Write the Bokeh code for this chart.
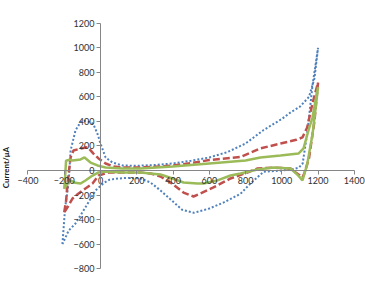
import math
from bokeh.plotting import figure
from bokeh.models import Label, Range1d, FixedTicker
from bokeh.embed import file_html
from bokeh.resources import INLINE

# Series 1 (blue, dotted) - one CV loop
blue_x = [-210, -195, -176, -165, -138, -110, -90, -60, -40, -17, 0, 28, 66, 121, 200, 300, 400, 500,
          600, 700, 800, 900, 1000, 1050, 1100, 1150, 1180, 1200, 1170, 1140, 1115, 1095, 1060, 1000,
          900, 827, 772, 680, 600, 515, 450, 405, 331, 276, 220, 150, 100, 50, 20, -28, -83, -138,
          -176, -193, -210]
blue_y = [-600, -300, -106, 163, 326, 395, 405, 395, 380, 300, 220, 106, 65, 41, 38, 45, 57, 80,
          106, 150, 220, 330, 420, 475, 520, 600, 750, 1000, 700, 300, 57, 24, 10, 0,
          -10, -106, -190, -260, -310, -345, -320, -260, -163, -98, -65, -60, -65, -75, -100, -163, -300, -432,
          -490, -546, -600]

# Series 2 (red, dashed)
red_x = [-200, -190, -182, -165, -149, -110, -70, -39, -11, 28, 72, 121, 200, 300, 400, 500, 600, 700,
         772, 882, 993, 1080, 1114, 1140, 1169, 1200, 1180, 1150, 1125, 1114, 1090, 1048, 955, 866,
         810, 717, 623, 552, 513, 458, 386, 331, 276, 220, 150, 44, -11, -44, -83, -121, -154, -182, -200]
red_y = [-340, -250, -106, 106, 163, 179, 190, 138, 98, 57, 33, 24, 24, 30, 41, 60, 85, 100,
         110, 180, 220, 250, 270, 350, 545, 717, 400, 100, -20, -57, -30, 16, 24, 16,
         -16, -65, -138, -187, -212, -180, -98, -49, -24, -16, -16, -16, -41, -106, -147, -187, -228, -300, -340]

# Series 3 (green, solid)
green_x = [-200, -195, -190, -170, -154, -110, -88, -55, -17, 28, 121, 220, 397, 600, 800, 882, 993,
           1092, 1120, 1147, 1169, 1200, 1170, 1140, 1114, 1090, 1048, 955, 866, 772, 717, 645, 568,
           535, 458, 397, 331, 220, 121, 28, -11, -44, -83, -110, -140, -165, -185, -200]
green_y = [-150, -50, 80, 88, 81, 90, 106, 65, 41, 24, 16, 16, 33, 57, 81, 106, 122,
           138, 180, 326, 432, 680, 300, 50, -81, -40, 16, 24, 8, -24, -41, -81, -106,
           -106, -98, -65, -33, -16, -16, -8, -16, -41, -81, -106, -100, -81, -110, -150]

x_ticks = [-400, -200, 0, 200, 400, 600, 800, 1000, 1200, 1400]
y_ticks = [-800, -600, -400, -200, 0, 200, 400, 600, 800, 1000, 1200]
y_title = "Current/μA"

# the frame covers the whole canvas; axes are drawn through the origin with bounds
p = figure(width=365, height=282, output_backend="svg", toolbar_location=None,
           x_range=Range1d(-551.6, 1461.7), y_range=Range1d(-912.8, 1385.5),
           min_border_left=0, min_border_right=0, min_border_top=0, min_border_bottom=0)
p.outline_line_color = None
p.grid.visible = False
p.background_fill_color = "white"

p.line(blue_x, blue_y, line_color="#4F81BD", line_width=2, line_dash="2 2")
p.line(red_x, red_y, line_color="#C0504D", line_width=2.5, line_dash="7 3")
p.line(green_x, green_y, line_color="#9BBB59", line_width=2.5)

for ax in (p.xaxis[0], p.yaxis[0]):
    ax.fixed_location = 0
    ax.axis_line_color = "#868686"
    ax.major_tick_line_color = "#868686"
    ax.major_tick_out = 4
    ax.major_tick_in = 0
    ax.minor_tick_line_color = None
    ax.major_label_text_font = "Lato"
    ax.major_label_text_font_size = "9px"
    ax.major_label_text_color = "#303030"
    ax.major_label_standoff = 2
p.xaxis[0].ticker = FixedTicker(ticks=x_ticks)
p.yaxis[0].ticker = FixedTicker(ticks=y_ticks)
p.xaxis[0].bounds = (x_ticks[0], x_ticks[-1])
p.yaxis[0].bounds = (y_ticks[0], y_ticks[-1])

p.add_layout(Label(x=-524, y=24, text=y_title, angle=math.pi / 2, text_align="center",
                   text_baseline="middle", text_font="Lato", text_font_size="8px",
                   text_font_style="bold", text_color="#202020"))

open("out.html", "w").write(file_html(p, INLINE))
